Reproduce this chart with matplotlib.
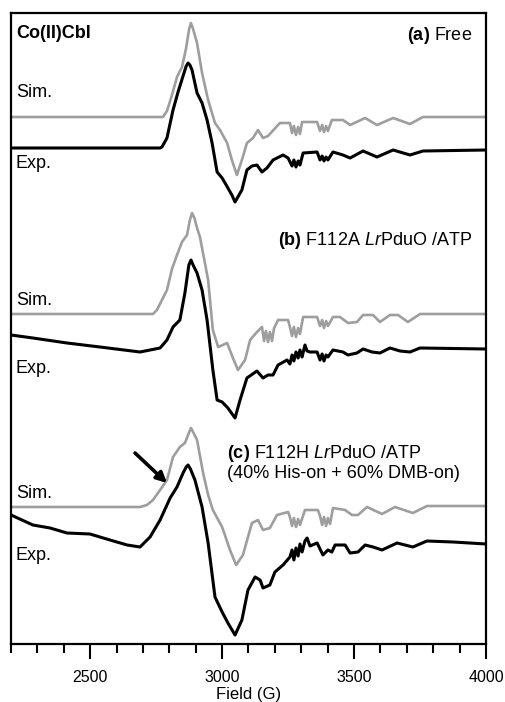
import matplotlib
matplotlib.use("Agg")
import matplotlib.pyplot as plt
from matplotlib.ticker import MultipleLocator

plt.rcParams["font.family"] = "Liberation Sans"
plt.rcParams["mathtext.fontset"] = "custom"
plt.rcParams["mathtext.rm"] = "Liberation Sans"
plt.rcParams["mathtext.bf"] = "Liberation Sans:bold"
plt.rcParams["mathtext.it"] = "Liberation Sans:italic"

# (a) free Co(II)Cbl
field_a_sim = [2200, 2765, 2776, 2791, 2810, 2829, 2848, 2863, 2875, 2882, 2890, 2905, 2924, 2947,
               2973, 2992, 3019, 3037, 3056, 3075, 3094, 3117, 3136, 3155, 3174, 3219, 3257,
               3265, 3272, 3280, 3288, 3295, 3303, 3360, 3371, 3379, 3386, 3394, 3401, 3416,
               3458, 3485, 3542, 3587, 3648, 3712, 3761, 4000]
int_a_sim = [0, 0, 0, 6, 22, 40, 50, 68, 88, 94, 88, 74, 44, 17,
             -6, -13, -26, -43, -58, -43, -26, -21, -13, -21, -19, -6, -6,
             -16, -9, -18, -10, -17, -5, -5, -14, -8, -15, -9, -14, -3,
             -3, -8, -1, -8, -1, -7, 0, 0]
field_a_exp = [2200, 2765, 2772, 2791, 2814, 2833, 2852, 2864, 2871, 2878, 2886, 2905, 2924, 2943, 2962,
               2981, 3000, 3022, 3037, 3049, 3064, 3075, 3094, 3113, 3132, 3151, 3170, 3193,
               3231, 3250, 3265, 3272, 3280, 3288, 3295, 3307, 3360, 3371, 3379, 3386, 3394,
               3401, 3420, 3458, 3485, 3534, 3587, 3648, 3712, 3761, 4000]
int_a_exp = [2, 2, 3, 12, 40, 58, 74, 84, 87, 85, 80, 57, 47, 30, 7,
             -22, -28, -38, -45, -52, -45, -40, -20, -16, -15, -22, -18, -10,
             -5, -8, -16, -10, -17, -11, -15, -3, -2, -10, -6, -11, -7,
             -10, -2, -5, -8, -1, -7, 0, -5, -1, 0]

# (b) F112A LrPduO / ATP
field_b_sim = [2200, 2738, 2753, 2772, 2791, 2810, 2829, 2848, 2867, 2878, 2886, 2895, 2905, 2916, 2932,
               2947, 2965, 2985, 3019, 3041, 3060, 3087, 3106, 3132, 3151, 3159, 3166, 3174,
               3181, 3189, 3197, 3212, 3250, 3257, 3265, 3272, 3280, 3288, 3295, 3307, 3360,
               3371, 3379, 3386, 3394, 3401, 3420, 3447, 3477, 3511, 3534, 3572, 3598, 3636,
               3667, 3704, 3750, 4000]
int_b_sim = [0, 0, 4, 14, 24, 45, 59, 72, 79, 94, 101, 96, 86, 77, 55,
             34, -16, -33, -29, -44, -56, -46, -26, -18, -13, -27, -17, -28,
             -18, -27, -14, -6, -6, -13, -22, -13, -23, -14, -20, -3, -3,
             -12, -6, -14, -7, -12, -3, -3, -9, -8, -1, -1, -8, -1,
             -1, -8, 0, 0]
field_b_exp = [2200, 2283, 2412, 2537, 2689, 2765, 2791, 2814, 2840, 2859, 2874, 2882, 2890, 2905, 2924,
               2943, 2965, 2981, 3000, 3022, 3049, 3068, 3094, 3132, 3155, 3174, 3193, 3212,
               3246, 3257, 3265, 3272, 3280, 3288, 3295, 3303, 3314, 3322, 3333, 3360, 3371,
               3379, 3386, 3394, 3401, 3420, 3458, 3477, 3511, 3534, 3568, 3598, 3636, 3674,
               3712, 3750, 4000]
int_b_exp = [14, 11, 6, 2, -3, 1, 9, 22, 29, 56, 84, 89, 84, 76, 59,
             29, -21, -51, -53, -59, -69, -51, -29, -22, -29, -26, -26, -16,
             -11, -15, -6, -12, -3, -9, -1, -8, 4, -2, -3, -3, -11,
             -5, -12, -6, -8, -1, -3, -6, -4, 0, -3, -4, 1, -2,
             -3, 1, 0]

# (c) F112H LrPduO / ATP
field_c_sim = [2200, 2689, 2715, 2738, 2765, 2791, 2814, 2840, 2859, 2874, 2882, 2890, 2905, 2928, 2947,
               2965, 3000, 3030, 3053, 3079, 3098, 3113, 3136, 3155, 3181, 3208, 3250, 3257,
               3265, 3272, 3280, 3288, 3295, 3314, 3363, 3371, 3379, 3386, 3394, 3401, 3409,
               3420, 3466, 3492, 3515, 3549, 3606, 3655, 3723, 3776, 4000]
int_c_sim = [0, 0, 2, 7, 17, 27, 50, 60, 64, 74, 79, 75, 67, 34, 12,
             -3, -20, -43, -58, -48, -30, -16, -13, -23, -21, -8, -5, -10,
             -19, -11, -20, -12, -18, -3, -3, -9, -18, -10, -19, -11, -17,
             -1, -3, -8, -8, 0, -7, 0, -6, 1, 1]
field_c_exp = [2200, 2283, 2348, 2412, 2499, 2575, 2640, 2689, 2727, 2765, 2803, 2829, 2852,
               2864, 2871, 2880, 2897, 2924, 2947, 2973, 3000, 3022, 3049, 3075, 3098, 3125, 3144, 3155,
               3181, 3200, 3231, 3257, 3265, 3272, 3280, 3288, 3295, 3303, 3314, 3322, 3333,
               3360, 3382, 3401, 3416, 3428, 3466, 3485, 3515, 3542, 3572, 3606, 3663, 3723,
               3776, 3875, 4000]
int_c_exp = [27, 17, 14, 9, 8, 2, -3, -5, 5, 22, 44, 55, 69,
             75, 77, 73, 62, 35, -1, -55, -70, -81, -93, -78, -48, -35, -38, -46,
             -43, -30, -23, -15, -8, -18, -6, -14, -2, -10, 1, 4, -4,
             -1, -13, -8, -10, -3, -3, -11, -10, -3, -5, -8, -1, -5,
             1, 0, -2]

panels = [
    (field_a_sim, int_a_sim, 527, field_a_exp, int_a_exp, 494, 552, 481),
    (field_b_sim, int_b_sim, 330, field_b_exp, int_b_exp, 295, 344, 276),
    (field_c_sim, int_c_sim, 137, field_c_exp, int_c_exp, 102, 151, 89),
]

fig = plt.figure(figsize=(5.06, 7.02), dpi=100)
ax = fig.add_axes([11 / 506, 58 / 702, 475 / 506, 631 / 702])

for f_sim, i_sim, off_sim, f_exp, i_exp, off_exp, y_sim_lab, y_exp_lab in panels:
    ax.plot(f_sim, [v + off_sim for v in i_sim], color="#9e9e9e", lw=1.9,
            solid_joinstyle="round")
    ax.plot(f_exp, [v + off_exp for v in i_exp], color="black", lw=2.2,
            solid_joinstyle="round")
    ax.text(2218, y_sim_lab, "Sim.", fontsize=13, ha="left", va="center")
    ax.text(2218, y_exp_lab, "Exp.", fontsize=13, ha="left", va="center")

ax.text(2220, 611, "Co(II)Cbl", fontsize=13, fontweight="bold", ha="left", va="center")
ax.text(3947, 609, r"$\bf{(a)}$ Free", fontsize=13, ha="right", va="center")
ax.text(3947, 404, r"$\bf{(b)}$ F112A $\it{Lr}$PduO /ATP", fontsize=13, ha="right", va="center")
ax.text(3019, 191, r"$\bf{(c)}$ F112H $\it{Lr}$PduO /ATP", fontsize=13, ha="left", va="center")
ax.text(3019, 171, "(40% His-on + 60% DMB-on)", fontsize=13, ha="left", va="center")

# arrow marking the His-on shoulder
ax.annotate("", xy=(2791, 161), xytext=(2670, 191),
            arrowprops=dict(arrowstyle="-|>", color="black", lw=2.6,
                            mutation_scale=15, shrinkA=0, shrinkB=0))

ax.set_xlim(2200, 4000)
ax.set_ylim(0, 631)
ax.set_yticks([])
ax.xaxis.set_major_locator(MultipleLocator(500))
ax.xaxis.set_minor_locator(MultipleLocator(100))
ax.tick_params(axis="x", which="major", direction="out", length=11, width=1.5,
               labelsize=11.5, pad=8)
ax.tick_params(axis="x", which="minor", direction="out", length=6.5, width=1.5)
for sp in ax.spines.values():
    sp.set_linewidth(1.6)
fig.text(248.5 / 506, 0, "Field (G)", fontsize=12, ha="center", va="bottom")

fig.savefig("out.png", dpi=100)
